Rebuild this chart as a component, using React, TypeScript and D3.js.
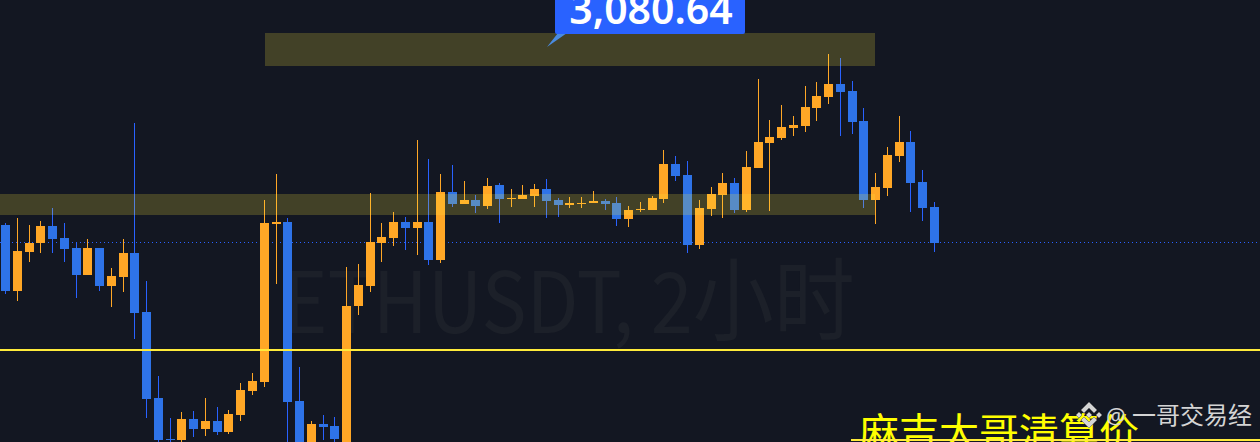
import React, { useEffect, useRef } from "react";
import * as d3 from "d3";

const opens = [2909,2843,2882,2891,2908,2896,2886,2859,2886,2848,2857,2881,2822,2736,2695,2694,2715,2705,2713,2702,2719,2743,2752,2910,2912,2733,2688,2710,2708,2688,2828,2848,2891,2896,2912,2906,2912,2874,2942,2930,2934,2928,2949,2935,2935,2938,2945,2934,2929,2930,2931,2933,2931,2915,2924,2924,2935,2970,2959,2889,2925,2939,2951,2924,2966,2991,2996,3006,3008,3026,3037,3050,3043,3013,2934,2946,2978,2992,2952,2927];
const closes = [2843,2883,2891,2908,2895,2885,2859,2886,2848,2858,2881,2821,2735,2694,2694,2715,2705,2713,2702,2720,2744,2753,2911,2912,2732,2688,2710,2707,2695,2828,2849,2892,2897,2912,2906,2912,2874,2942,2930,2934,2928,2948,2935,2936,2939,2945,2933,2929,2931,2931,2933,2930,2915,2924,2925,2936,2970,2958,2889,2926,2940,2951,2924,2967,2992,2997,3007,3009,3027,3038,3050,3042,3012,2934,2947,2979,2992,2951,2926,2891];
const highs = [2911,2916,2909,2913,2926,2911,2891,2895,2886,2866,2895,3011,2853,2758,2716,2722,2723,2736,2727,2724,2751,2761,2934,2960,2916,2767,2713,2719,2717,2867,2870,2941,2911,2922,2917,2994,2975,2960,2969,2953,2939,2956,2951,2945,2949,2950,2955,2936,2937,2937,2943,2935,2937,2928,2932,2938,2984,2978,2973,2934,2947,2961,2956,2983,3055,3014,3029,3018,3048,3052,3080,3076,3053,3026,2961,2987,3018,3003,2964,2932];
const lows = [2840,2833,2872,2881,2881,2872,2836,2859,2843,2827,2842,2795,2716,2688,2688,2690,2697,2698,2699,2700,2713,2739,2747,2850,2688,2688,2688,2694,2688,2688,2819,2842,2872,2888,2884,2879,2869,2871,2927,2930,2921,2925,2911,2927,2935,2927,2916,2917,2926,2926,2931,2924,2908,2907,2922,2924,2931,2953,2881,2885,2918,2916,2921,2922,2966,2923,2994,2998,3002,3013,3030,2998,3000,2926,2910,2938,2972,2922,2913,2882];

const bandPrices = [[3101, 3068], [2940, 2919]];
const supportPrice = 2784;
const lastPrice = 2892;
const highLabel = "3,080.64";
const watermarkLatin = "ETHUSDT, 2";
const watermarkCjk = "小时";
const caption = "麻吉大哥清算价";
const authorAt = "@";
const author = "一哥交易经";

const W = 1260, H = 442;

export default function App() {
  const ref = useRef<SVGSVGElement>(null);
  useEffect(() => {
    const svg = d3.select(ref.current!);
    svg.selectAll("*").remove();
    const x = d3.scaleLinear().domain([0, 79]).range([5.6, 934.4]);
    const y = d3.scaleLinear().domain([2692, 3134]).range([442, 0]);
    const col = (i: number) => Math.floor(x(i));
    const orange = "#FFA726", blueBody = "#2E73E8", blueWick = "#2962FF";

    svg.append("rect").attr("width", W).attr("height", H).attr("fill", "#131722");

    const wm = svg.append("text").attr("transform", "translate(283,333) scale(0.9,1)")
      .attr("font-family", "'Noto Sans CJK SC', 'Noto Sans', sans-serif")
      .attr("font-size", 84).attr("fill", "#1C2029");
    wm.append("tspan").text(watermarkLatin);
    wm.append("tspan").attr("font-size", 90).text(watermarkCjk);

    svg.append("g").selectAll("rect").data(d3.range(0, W, 4)).join("rect")
      .attr("x", (d) => d).attr("y", Math.round(y(lastPrice)))
      .attr("width", 1).attr("height", 1).attr("fill", blueWick);

    const idx = d3.range(opens.length);
    const g = svg.append("g");
    g.selectAll("rect.w").data(idx).join("rect").attr("class", "w")
      .attr("x", (i) => col(i))
      .attr("y", (i) => y(highs[i]))
      .attr("width", 1)
      .attr("height", (i) => y(lows[i]) - y(highs[i]))
      .attr("fill", (i) => (closes[i] >= opens[i] ? orange : blueWick));
    g.selectAll("rect.b").data(idx).join("rect").attr("class", "b")
      .attr("x", (i) => col(i) - 4)
      .attr("y", (i) => y(Math.max(opens[i], closes[i])))
      .attr("width", 9)
      .attr("height", (i) => Math.max(1, Math.abs(y(opens[i]) - y(closes[i]))))
      .attr("fill", (i) => (closes[i] >= opens[i] ? orange : blueBody));

    svg.append("g").selectAll("rect").data(bandPrices).join("rect")
      .attr("x", (_, i) => (i === 0 ? 265 : 0))
      .attr("width", (_, i) => (i === 0 ? 610 : 875))
      .attr("y", (d) => y(d[0]))
      .attr("height", (d) => y(d[1]) - y(d[0]))
      .attr("fill", "rgba(255,235,59,0.2)");

    svg.append("rect").attr("x", 0).attr("y", y(supportPrice) - 1)
      .attr("width", W).attr("height", 2).attr("fill", "#FFEB3B");

    svg.append("path").attr("d", "M567,33L547,47L558,33Z").attr("fill", "#4A8BE0");
    svg.append("rect").attr("x", 555).attr("y", -6).attr("width", 190).attr("height", 40)
      .attr("rx", 2).attr("fill", "#2962FF");
    svg.append("text").attr("x", 651).attr("y", 23.5)
      .attr("text-anchor", "middle").attr("font-family", "'Noto Sans', sans-serif")
      .attr("font-weight", 600).attr("font-size", 41).attr("fill", "#fff").text(highLabel);

    svg.append("text").attr("x", 859).attr("y", 447)
      .attr("font-family", "'Noto Sans CJK SC', sans-serif")
      .attr("font-size", 40).attr("fill", "#FFFF00").text(caption);
    svg.append("rect").attr("x", 851).attr("y", 439).attr("width", 409).attr("height", 2)
      .attr("fill", "#FFEB3B");

    const logo = svg.append("g").attr("transform", "translate(1089,415)")
      .attr("fill", "#D4D4D4").attr("stroke", "#666").attr("stroke-width", 0.6);
    const chevron = "M0,-13L8,-5L5,-2L0,-7L-5,-2L-8,-5Z";
    logo.append("path").attr("d", chevron);
    logo.append("path").attr("d", chevron).attr("transform", "scale(1,-1)");
    const diamonds: [number, number, number][] = [[-10, 0, 3], [10, 0, 3], [0, 0, 3]];
    logo.selectAll("path.d").data(diamonds).join("path").attr("class", "d")
      .attr("d", (d) => `M${d[0]},${d[1] - d[2]}L${d[0] + d[2]},${d[1]}L${d[0]},${d[1] + d[2]}L${d[0] - d[2]},${d[1]}Z`);

    svg.append("text").attr("x", 1106).attr("y", 424)
      .attr("font-family", "'Noto Sans', sans-serif")
      .attr("font-size", 22).attr("fill", "#D4D4D4").text(authorAt);
    svg.append("text").attr("x", 1132).attr("y", 424)
      .attr("font-family", "'Noto Sans CJK SC', sans-serif")
      .attr("font-size", 24).attr("fill", "#D4D4D4").text(author);
  }, []);
  return (
    <svg ref={ref} width={W} height={H} viewBox={`0 0 ${W} ${H}`}
      style={{ position: "absolute", left: 0, top: 0, display: "block" }} />
  );
}
